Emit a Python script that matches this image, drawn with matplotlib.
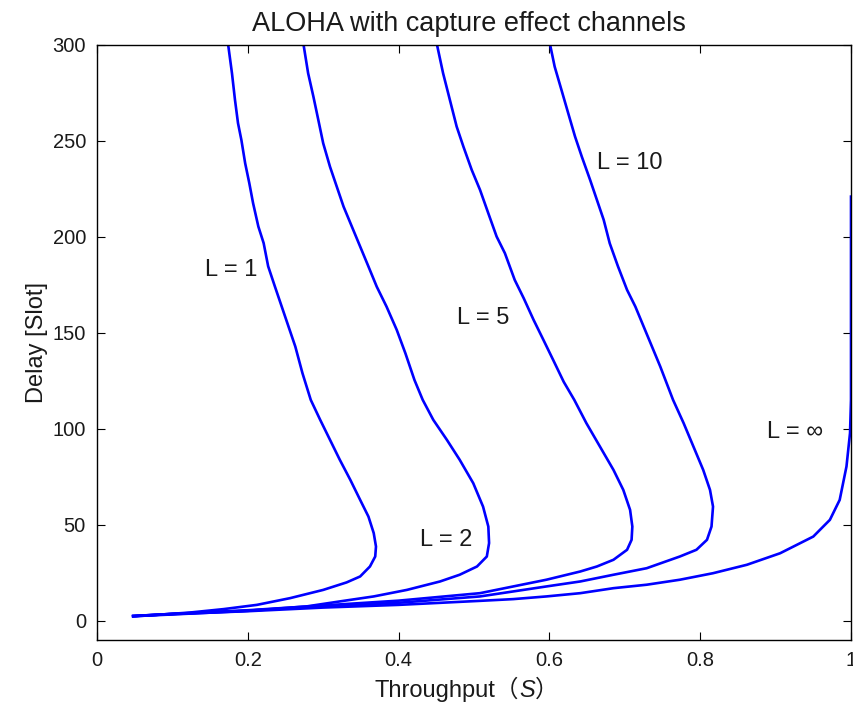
""" ALOHA delay vs throughput with capture effect
"""
import matplotlib
matplotlib.use('Agg')
import matplotlib.pyplot as plt
from matplotlib.offsetbox import TextArea, HPacker, AnchoredOffsetbox

# curve data: throughput S, delay [slot]
s_L1 = [0.048, 0.079, 0.123, 0.168, 0.212, 0.256, 0.300, 0.331, 0.349, 0.362,
        0.369, 0.370, 0.367, 0.360, 0.349, 0.336, 0.322, 0.309, 0.296, 0.2835,
        0.2725, 0.263, 0.254, 0.245, 0.236, 0.227, 0.221, 0.214, 0.207, 0.202,
        0.1965, 0.1915, 0.187, 0.183, 0.179, 0.174]
d_L1 = [2.3, 3.1, 4.3, 6.1, 8.3, 11.8, 16.1, 20.0, 23.1, 28.3,
        33.5, 38.7, 45.7, 54.3, 63.0, 73.4, 83.9, 94.3, 104.7, 115.1,
        129.0, 142.9, 153.3, 163.7, 174.1, 184.7, 196.8, 205.4, 217.6, 228.0,
        238.4, 250.5, 259.3, 271.4, 285.3, 300]

s_L2 = [0.048, 0.100, 0.200, 0.278, 0.322, 0.367, 0.411, 0.455, 0.481, 0.504,
        0.517, 0.520, 0.519, 0.512, 0.499, 0.481, 0.464, 0.446, 0.432, 0.421,
        0.409, 0.3975, 0.384, 0.371, 0.360, 0.349, 0.338, 0.327, 0.318, 0.309,
        0.300, 0.2935, 0.287, 0.280, 0.274]
d_L2 = [2.4, 3.3, 5.2, 7.5, 10.1, 12.7, 16.1, 20.5, 24.0, 28.3,
        33.5, 40.5, 49.1, 59.5, 71.7, 83.9, 94.3, 104.7, 115.1, 125.5,
        139.4, 151.6, 163.7, 174.1, 184.6, 195.0, 205.4, 215.8, 226.2, 236.6,
        248.8, 261.0, 273.1, 285.3, 300]

s_L5 = [0.048, 0.100, 0.200, 0.300, 0.400, 0.508, 0.552, 0.596, 0.641, 0.663,
        0.685, 0.703, 0.709, 0.710, 0.707, 0.698, 0.685, 0.667, 0.649, 0.633,
        0.619, 0.605, 0.592, 0.579, 0.566, 0.554, 0.541, 0.530, 0.519, 0.508,
        0.497, 0.486, 0.477, 0.468, 0.459, 0.451]
d_L5 = [2.5, 3.6, 5.5, 8.0, 10.5, 14.4, 17.9, 21.4, 25.7, 28.3,
        31.8, 37.0, 42.2, 49.1, 57.8, 68.2, 78.6, 90.8, 103.0, 115.1,
        124.5, 135.9, 146.4, 156.8, 168.0, 177.6, 191.5, 200.2, 212.3, 224.5,
        234.9, 247.0, 257.5, 271.4, 285.3, 300]

s_L10 = [0.048, 0.100, 0.200, 0.300, 0.400, 0.508, 0.552, 0.596, 0.641, 0.685,
         0.729, 0.773, 0.795, 0.809, 0.815, 0.817, 0.813, 0.804, 0.791, 0.778,
         0.764, 0.747, 0.736, 0.725, 0.714, 0.703, 0.691, 0.680, 0.672, 0.663,
         0.654, 0.643, 0.634, 0.625, 0.616, 0.607, 0.601]
d_L10 = [2.5, 3.6, 5.3, 7.5, 9.4, 12.7, 15.3, 17.9, 20.5, 24.0,
         27.4, 33.5, 37.0, 42.2, 49.1, 59.5, 68.2, 78.6, 90.8, 103.0,
         115.1, 132.5, 142.9, 153.3, 163.7, 172.4, 184.6, 196.7, 208.9, 219.3,
         229.7, 241.8, 252.3, 264.4, 276.6, 288.7, 300]

s_Linf = [0.048, 0.100, 0.200, 0.300, 0.400, 0.508, 0.552, 0.596, 0.641, 0.685,
          0.729, 0.773, 0.817, 0.862, 0.906, 0.950, 0.972, 0.985, 0.994, 0.9987,
          1.0, 1.0]
d_Linf = [2.5, 3.5, 5.0, 6.9, 8.3, 10.4, 11.3, 12.7, 14.4, 17.0,
          18.8, 21.4, 24.8, 29.2, 35.2, 43.9, 52.6, 63.0, 80.4, 97.8,
          115.1, 221]

curves = [(s_L1, d_L1), (s_L2, d_L2), (s_L5, d_L5), (s_L10, d_L10), (s_Linf, d_Linf)]

label_txt = ['L = 1', 'L = 2', 'L = 5', 'L = 10', 'L = ∞']
label_x = [0.143, 0.428, 0.477, 0.663, 0.888]
label_y = [183, 42, 158, 238.5, 98.6]

# fig config
fonts = ['Liberation Sans', 'Noto Sans CJK JP', 'DejaVu Sans']
plt.rcParams['font.family'] = fonts
fsize_tick = 14.5
fsize_label = 17
fsize_title = 19.5
line_color = '#0000ff'
line_wid = 1.9
text_color = '#1a1a1a'

fig = plt.figure(figsize=(8.54, 7.11), dpi=100)
ax = fig.add_axes([97/854, 71/711, 754/854, 595/711])

for s, d in curves:
    ax.plot(s, d, color=line_color, linewidth=line_wid, solid_joinstyle='round')

for txt, x, y in zip(label_txt, label_x, label_y):
    ax.text(x, y, txt, fontsize=fsize_label, ha='left', va='center', color=text_color)

ax.set_xlim(0, 1)
ax.set_ylim(-10, 300)
ax.set_xticks([0, 0.2, 0.4, 0.6, 0.8, 1])
ax.set_xticklabels(['0', '0.2', '0.4', '0.6', '0.8', '1'])
ax.set_yticks(range(0, 301, 50))
ax.tick_params(direction='in', top=True, right=True, labelsize=fsize_tick,
               length=6, pad=8, labelcolor=text_color)
for sp in ax.spines.values():
    sp.set_linewidth(1.0)

ax.set_title('ALOHA with capture effect channels', fontsize=fsize_title, pad=10,
             color=text_color, x=0.493)
ax.set_ylabel('Delay [Slot]', fontsize=fsize_label, labelpad=3, color=text_color)

# x label: Throughput (S) with italic S inside full-width parens
tp = dict(fontsize=fsize_label, color=text_color)
parts = [TextArea('Throughput（', textprops=tp),
         TextArea('S', textprops=dict(tp, style='italic')),
         TextArea('）', textprops=tp)]
box = HPacker(children=parts, align='baseline', pad=0, sep=0)
xlab = AnchoredOffsetbox(loc='upper center', child=box, frameon=False, pad=0,
                         bbox_to_anchor=(0.49, -0.062), bbox_transform=ax.transAxes,
                         borderpad=0)
ax.add_artist(xlab)

plt.savefig('out.png', dpi=100)
